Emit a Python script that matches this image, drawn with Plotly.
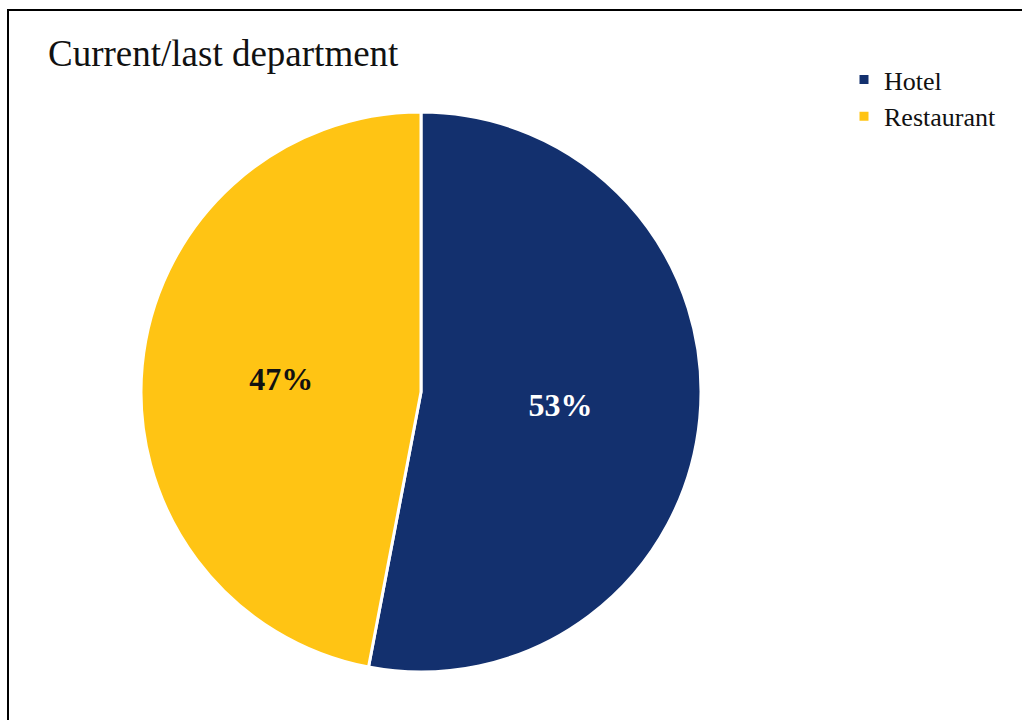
import plotly.graph_objects as go

categories = ["Hotel", "Restaurant"]
shares = [53, 47]
colors = ["#13306E", "#FFC414"]
text_colors = ["#FFFFFF", "#111111"]
title_text = "Current/last department"

W, H = 1022, 720

fig = go.Figure(
    go.Pie(
        labels=categories,
        values=shares,
        sort=False,
        direction="clockwise",
        rotation=0,
        marker=dict(colors=colors, line=dict(color="#FFFFFF", width=3)),
        texttemplate="<b>%{percent:.0%}</b>",
        textposition="inside",
        insidetextorientation="horizontal",
        insidetextfont=dict(family="Liberation Serif", size=32, color=text_colors),
        domain=dict(x=[141 / W, 701 / W], y=[1 - 672 / H, 1 - 112 / H]),
        hoverinfo="label+percent",
    )
)

fig.update_layout(
    width=W,
    height=H,
    margin=dict(l=0, r=0, t=0, b=0),
    paper_bgcolor="#FFFFFF",
    plot_bgcolor="#FFFFFF",
    font=dict(family="Liberation Serif", color="#111111"),
    title=dict(
        text=title_text,
        x=48 / W,
        xanchor="left",
        y=1 - 53 / H,
        yanchor="middle",
        font=dict(family="Liberation Serif", size=37, color="#111111"),
    ),
    legend=dict(
        x=844 / W,
        xanchor="left",
        y=1 - 56 / H,
        yanchor="top",
        font=dict(family="Liberation Serif", size=26, color="#111111"),
        bgcolor="rgba(0,0,0,0)",
    ),
    shapes=[
        dict(
            type="rect",
            xref="paper",
            yref="paper",
            x0=8 / W,
            x1=1.02,
            y0=-0.02,
            y1=1 - 10 / H,
            line=dict(color="#000000", width=2),
            fillcolor="rgba(0,0,0,0)",
            layer="below",
        )
    ],
)

fig.write_html("out.html")
